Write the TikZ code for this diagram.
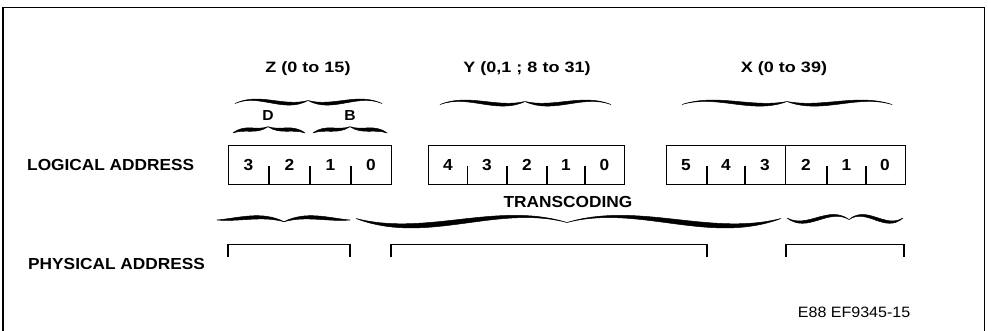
\documentclass[tikz,border=0pt]{standalone}
\usepackage{fontspec}
\setmainfont{Liberation Sans}
\newfontfamily\caplab{Liberation Sans}[FakeStretch=1.08]
\newfontfamily\rangelab{Liberation Sans}[FakeStretch=1.2]
\newfontfamily\reflab{Liberation Sans}[FakeStretch=1.07]

% shape of the calligraphic braces: cusp height, two control offsets, two swell widths
\newcommand\braceform[5]{\def\bh{#1}\def\byA{#2}\def\byB{#3}\def\bdA{#4}\def\bdB{#5}}
% one half of a brace: end x, cusp x, end y, sign (+1 cusp down, -1 cusp up)
\newcommand\halfbrace[4]{%
  \pgfmathsetmacro\hbL{#2-#1}%
  \pgfmathsetmacro\hbH{#4*\bh}%
  \pgfmathsetmacro\hbPa{#4*(\byA+\bdA/2)}%
  \pgfmathsetmacro\hbPb{#4*(\byB+\bdB/2)}%
  \pgfmathsetmacro\hbQa{#4*(\byA-\bdA/2)}%
  \pgfmathsetmacro\hbQb{#4*(\byB-\bdB/2)}%
  \filldraw[braceink] (#1,#3)
    .. controls ({#1+\hbL/3},{#3+\hbPa}) and ({#1+2*\hbL/3},{#3+\hbPb}) .. (#2,{#3+\hbH})
    .. controls ({#1+2*\hbL/3},{#3+\hbQb}) and ({#1+\hbL/3},{#3+\hbQa}) .. (#1,#3) -- cycle;
}
% whole brace: left x, right x, cusp x, end y, sign
\newcommand\cbrace[5]{\halfbrace{#1}{#3}{#4}{#5}\halfbrace{#2}{#3}{#4}{#5}}

\tikzset{
  ink/.style={draw=black, line width=1.3pt},
  frameline/.style={draw=black, line width=1.3pt},
  braceink/.style={fill=black, draw=black, line width=0.5pt, line join=round},
  regbox/.style={draw=black, line width=1.3pt, rectangle, inner sep=0pt,
    anchor=north west, minimum height=39pt},
  caplbl/.style={font=\caplab\bfseries\fontsize{16}{18}\selectfont, inner sep=0pt},
  rangelbl/.style={font=\rangelab\bfseries\fontsize{15}{18}\selectfont, inner sep=0pt, anchor=base},
  digit/.style={font=\caplab\bfseries\fontsize{16}{18}\selectfont, inner sep=0pt, anchor=base},
  fieldlbl/.style={font=\caplab\bfseries\fontsize{14.5}{16}\selectfont, inner sep=0pt, anchor=base},
  reflbl/.style={font=\reflab\fontsize{15}{18}\selectfont, inner sep=0pt, anchor=base east},
}

\begin{document}
\begin{tikzpicture}[x=1pt, y=-1pt]
\useasboundingbox (0,0) rectangle (988,330);

% outer frame
\draw[frameline] (3,332) -- (3,7.5) -- (984.5,7.5) -- (984.5,332);

% row titles
\node[caplbl, anchor=base west] (logical) at (27,170) {LOGICAL ADDRESS};
\node[caplbl, anchor=base west] (physical) at (28,269) {PHYSICAL ADDRESS};

% coordinate ranges
\node[rangelbl] (zrange) at (308,72.7) {Z (0 to 15)};
\node[rangelbl] (yrange) at (527,72.7) {Y (0,1 ; 8 to 31)};
\node[rangelbl] (xrange) at (784,72.7) {X (0 to 39)};

% D and B sub-fields of Z
\node[fieldlbl] (dfield) at (268,120.5) {D};
\node[fieldlbl] (bfield) at (350,120.5) {B};

% logical address registers
\node[regbox, minimum width=163pt] (zlog) at (228,145) {};
\node[regbox, minimum width=196pt] (ylog) at (428,145) {};
\node[regbox, minimum width=239pt] (xlog) at (665.5,145) {};

% bit separators (short ticks) and the X split
\foreach \t in {269,310,351, 467.5,507,547,585, 707,745,827,866}
  \draw[ink] (\t,166) -- (\t,184);
\draw[ink] (785.5,145) -- (785.5,184);

% bit numbers
\foreach \x/\d [count=\i] in {248.5/3,289.5/2,330.5/1,371/0}
  \node[digit] (zb\i) at (\x,170) {\d};
\foreach \x/\d [count=\i] in {448/4,487/3,527/2,566/1,604.5/0}
  \node[digit] (yb\i) at (\x,170) {\d};
\foreach \x/\d [count=\i] in {686/5,726/4,765/3,806/2,846.5/1,885/0}
  \node[digit] (xb\i) at (\x,170) {\d};

\node[caplbl, anchor=base] (transcoding) at (568,207.5) {TRANSCODING};

% physical address brackets
\draw[ink] (228,257) -- (228,244.5) -- (350,244.5) -- (350,257);
\draw[ink] (391,257) -- (391,244.5) -- (707,244.5) -- (707,257);
\draw[ink] (786,257) -- (786,244.5) -- (904,244.5) -- (904,257);

% braces pointing up to the range labels
\braceform{3}{11}{-7}{1}{6.5}
\cbrace{235}{382}{308}{103.5}{-1}
\cbrace{440}{611}{525}{104.5}{-1}
\cbrace{682}{892}{787}{104.5}{-1}

% braces over the D and B fields
\braceform{6.3}{7}{0}{5}{4}
\cbrace{233}{305}{268}{133}{-1}
\cbrace{313}{387}{350}{133}{-1}

% transcoding braces pointing down to the physical fields
\braceform{1.7}{0}{-7}{4}{5}
\cbrace{217}{350}{284}{220}{1}
\braceform{4}{22.5}{-16}{9}{3}
\cbrace{356}{781}{567}{218.5}{1}
\braceform{1.5}{13.5}{-12}{5}{3}
\cbrace{787}{903}{849}{218}{1}

% figure reference
\node[reflbl] (figref) at (910.5,317) {E88 EF9345-15};
\end{tikzpicture}
\end{document}
